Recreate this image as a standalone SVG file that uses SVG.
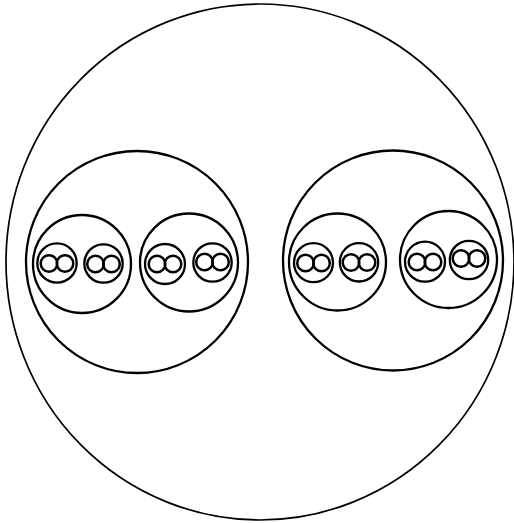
<svg xmlns="http://www.w3.org/2000/svg" width="514" height="523" viewBox="0 0 514 523">
<style>
.c{fill:none;stroke:#000;stroke-width:2.3}
.t{fill:none;stroke:#000;stroke-width:2.5}
.o{fill:none;stroke:#000;stroke-width:1.7}
</style>
<rect width="514" height="523" fill="#fff"/>
<g id="outer"><ellipse class="o" cx="260" cy="262" rx="254" ry="258"/></g>
<g id="left">
  <circle class="c" cx="137" cy="262" r="111"/>
  <g id="L1"><circle class="c" cx="82" cy="264" r="49"/>
    <g id="L1a"><circle class="c" cx="57" cy="263" r="19.7"/><circle class="t" cx="49" cy="263.5" r="8.3"/><circle class="t" cx="65" cy="263.5" r="8.3"/></g>
    <g id="L1b"><circle class="c" cx="103.5" cy="263.5" r="19.2"/><circle class="t" cx="95.5" cy="264" r="8.3"/><circle class="t" cx="111.5" cy="264" r="8.3"/></g>
  </g>
  <g id="L2"><circle class="c" cx="189" cy="262.5" r="49"/>
    <g id="L2a"><circle class="c" cx="165" cy="264" r="20"/><circle class="t" cx="157" cy="264" r="8.3"/><circle class="t" cx="173" cy="264" r="8.3"/></g>
    <g id="L2b"><circle class="c" cx="212.5" cy="262.5" r="19.2"/><circle class="t" cx="204.5" cy="262" r="8.3"/><circle class="t" cx="220.5" cy="262" r="8.3"/></g>
  </g>
</g>
<g id="right">
  <circle class="c" cx="393" cy="260.5" r="110"/>
  <g id="R1"><circle class="c" cx="337.5" cy="262" r="48.5"/>
    <g id="R1a"><circle class="c" cx="313.5" cy="262.7" r="19.5"/><circle class="t" cx="305.5" cy="263" r="8.3"/><circle class="t" cx="321.5" cy="263" r="8.3"/></g>
    <g id="R1b"><circle class="c" cx="359" cy="262.3" r="19.2"/><circle class="t" cx="351" cy="262.5" r="8.3"/><circle class="t" cx="367" cy="262.5" r="8.3"/></g>
  </g>
  <g id="R2"><circle class="c" cx="448.5" cy="259.5" r="48.5"/>
    <g id="R2a"><circle class="c" cx="425" cy="261.7" r="20"/><circle class="t" cx="417" cy="262" r="8.3"/><circle class="t" cx="433" cy="262" r="8.3"/></g>
    <g id="R2b"><circle class="c" cx="469" cy="260" r="19.2"/><circle class="t" cx="461" cy="258.5" r="8.3"/><circle class="t" cx="477" cy="258.5" r="8.3"/></g>
  </g>
</g>
</svg>
